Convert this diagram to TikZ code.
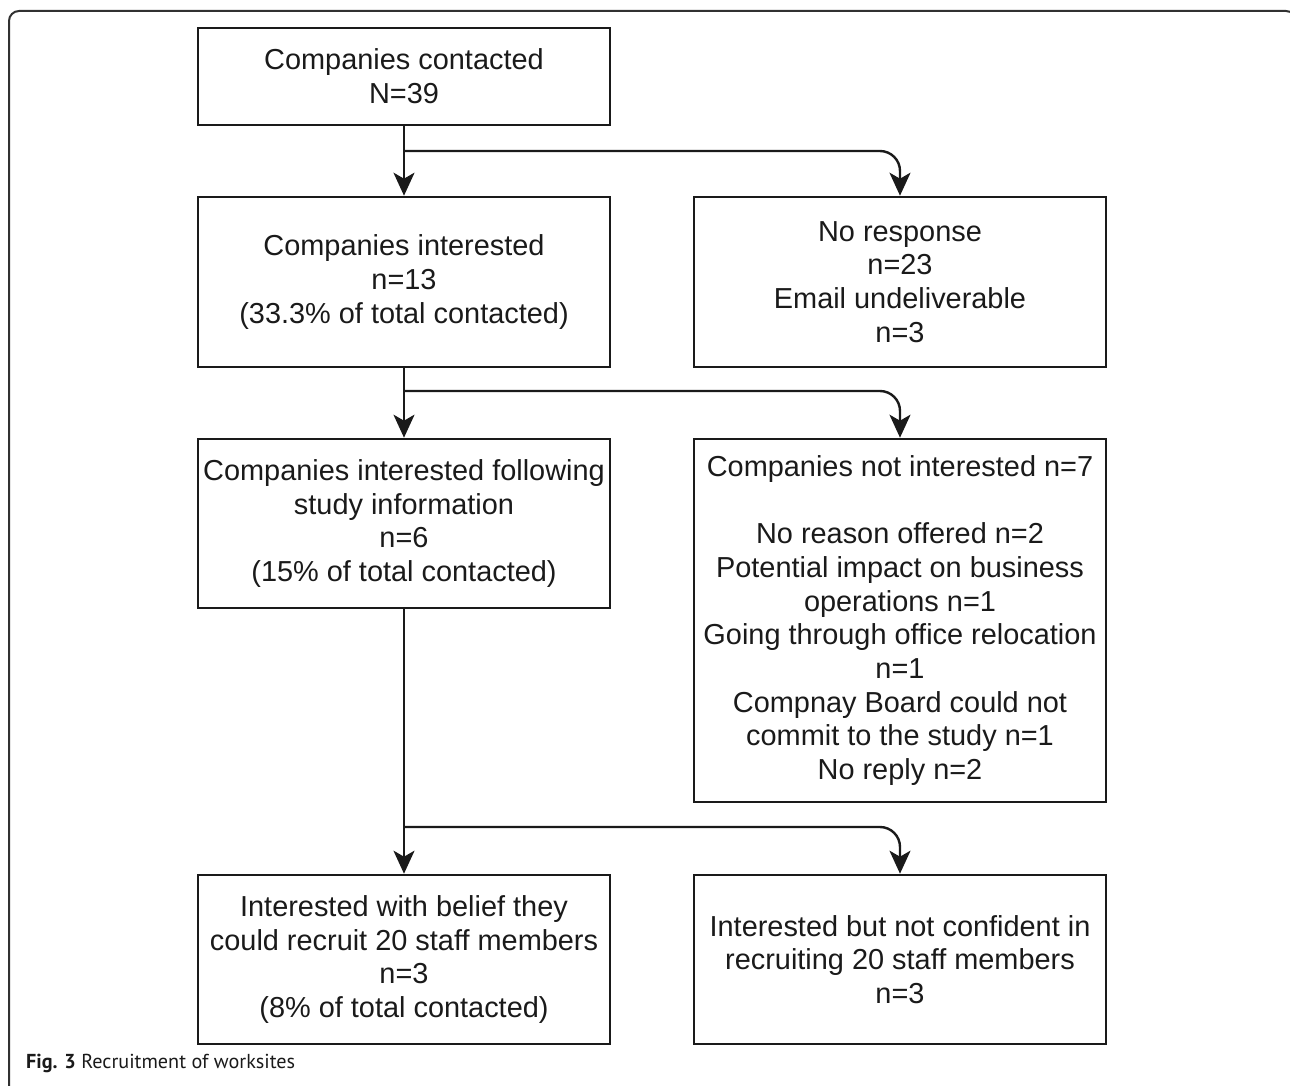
\documentclass[tikz,border=0pt]{standalone}
\usepackage{fontspec}
\setmainfont{Liberation Sans}
\newfontfamily\capfont{PT Sans}
\usetikzlibrary{arrows.meta}
\definecolor{ink}{HTML}{1A1A1A}
\tikzset{
  box/.style={draw=ink, line width=2.6pt, text=ink, align=center, inner sep=2pt,
    minimum width=412pt, font=\fontsize{28.9}{33.7}\selectfont},
  arr/.style={draw=ink, line width=2.4pt, -{Stealth[length=23pt,width=21pt,inset=6pt]}},
  ln/.style={draw=ink, line width=2.4pt}
}
\begin{document}
\begin{tikzpicture}[x=1pt,y=-1pt]
\useasboundingbox (0,0) rectangle (1290,1086);
\begin{scope}
\clip (0,0) rectangle (1290,1086);
\draw[draw=ink!90, line width=2pt, rounded corners=10pt] (9,11) rectangle (1296,1110);
\end{scope}
\node[box, minimum height=97pt] (b1) at (404,76.5) {Companies contacted\\N=39};
\node[box, minimum height=170pt] (b2) at (404,282) {Companies interested\\n=13\\(33.3\% of total contacted)};
\node[box, minimum height=170pt] (b3) at (900,282) {No response\\n=23\\Email undeliverable\\n=3};
\node[box, minimum height=169pt] (b4) at (404,523.5) {Companies interested following\\study information\\n=6\\(15\% of total contacted)};
\node[box, minimum height=363pt] (b5) at (900,620.5) {Companies not interested n=7\\[33.7pt]No reason offered n=2\\Potential impact on business\\operations n=1\\Going through office relocation\\n=1\\Compnay Board could not\\commit to the study n=1\\No reply n=2};
\node[box, minimum height=169pt] (b6) at (404,959.5) {Interested with belief they\\could recruit 20 staff members\\n=3\\(8\% of total contacted)};
\node[box, minimum height=169pt] (b7) at (900,959.5) {Interested but not confident in\\recruiting 20 staff members\\n=3};
\coordinate (j1) at (404,151);
\coordinate (j2) at (404,391);
\coordinate (j3) at (404,827);
\draw[arr] (b1.south) -- (b2.north);
\draw[arr, rounded corners=20pt] (j1) -| (b3.north);
\draw[arr] (b2.south) -- (b4.north);
\draw[arr, rounded corners=20pt] (j2) -| (b5.north);
\draw[arr] (b4.south) -- (b6.north);
\draw[arr, rounded corners=20pt] (j3) -| (b7.north);
\node[anchor=base west, inner sep=0pt, text=ink, font=\capfont\fontsize{20.2}{24}\selectfont] (cap) at (26,1068) {\textbf{Fig. 3} Recruitment of worksites};
\end{tikzpicture}
\end{document}
